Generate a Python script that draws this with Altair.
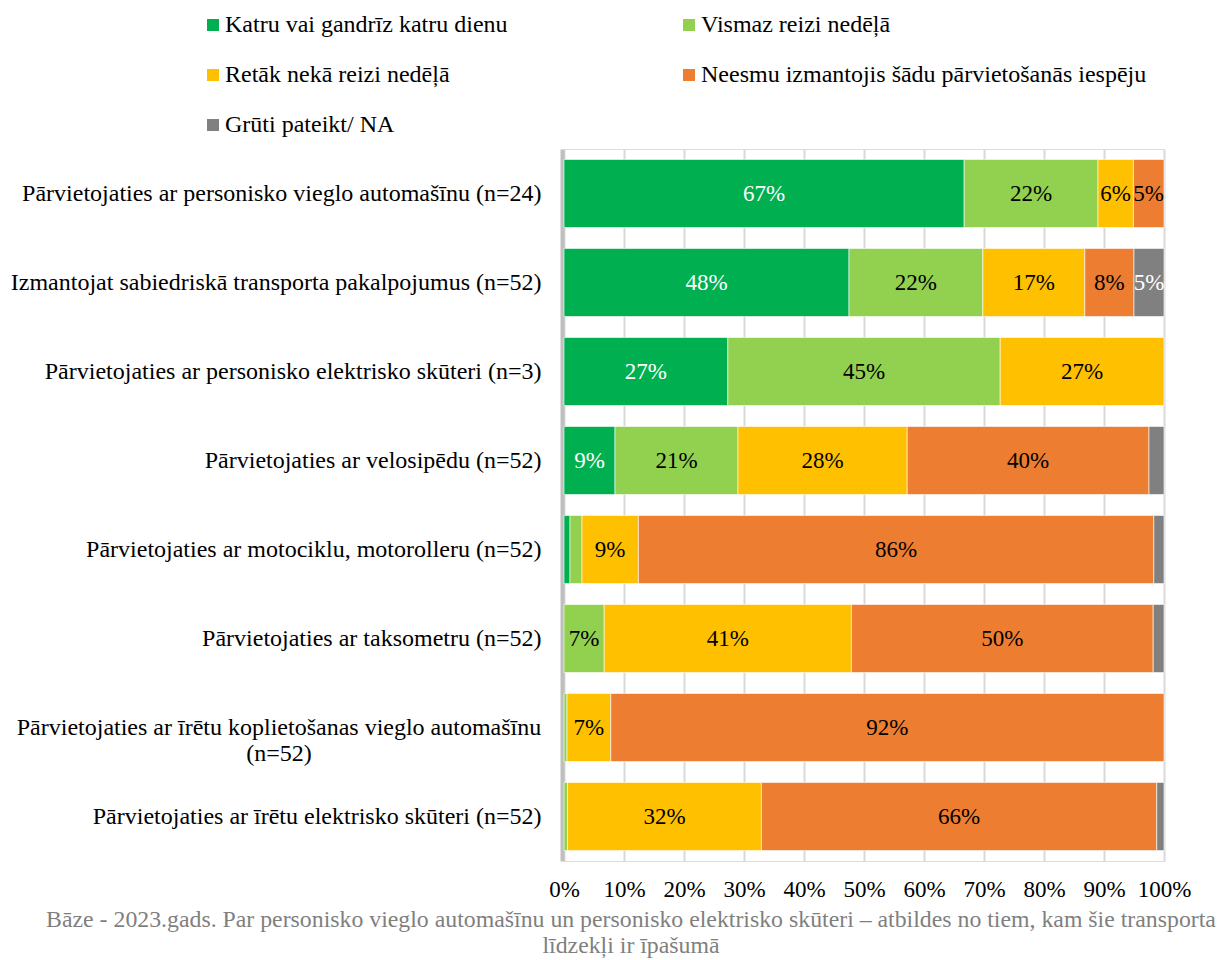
import json
import altair as alt
import pandas as pd

categories = [
    "Pārvietojaties ar personisko vieglo automašīnu (n=24)",
    "Izmantojat sabiedriskā transporta pakalpojumus (n=52)",
    "Pārvietojaties ar personisko elektrisko skūteri (n=3)",
    "Pārvietojaties ar velosipēdu (n=52)",
    "Pārvietojaties ar motociklu, motorolleru (n=52)",
    "Pārvietojaties ar taksometru (n=52)",
    "Pārvietojaties ar īrētu koplietošanas vieglo automašīnu (n=52)",
    "Pārvietojaties ar īrētu elektrisko skūteri (n=52)",
]
series = [
    "Katru vai gandrīz katru dienu",
    "Vismaz reizi nedēļā",
    "Retāk nekā reizi nedēļā",
    "Neesmu izmantojis šādu pārvietošanās iespēju",
    "Grūti pateikt/ NA",
]
colors = ["#00B050", "#92D050", "#FFC000", "#ED7D31", "#808080"]

daily = [66.7, 47.5, 27.3, 8.5, 1.0, 0.0, 0.0, 0.0]
weekly = [22.3, 22.3, 45.4, 20.5, 2.0, 6.7, 0.5, 0.6]
less = [5.9, 17.0, 27.3, 28.2, 9.4, 41.2, 7.3, 32.3]
never = [5.1, 8.2, 0.0, 40.3, 85.9, 50.3, 92.2, 65.9]
na = [0.0, 5.0, 0.0, 2.5, 1.7, 1.8, 0.0, 1.2]
values = [daily, weekly, less, never, na]

x_ticks = [0, 10, 20, 30, 40, 50, 60, 70, 80, 90, 100]
footnote = [
    "Bāze - 2023.gads. Par personisko vieglo automašīnu un personisko elektrisko skūteri – atbildes no tiem, kam šie transporta",
    "līdzekļi ir īpašumā",
]

rows = []
for si, (s, vals) in enumerate(zip(series, values)):
    for c, v in zip(categories, vals):
        if v > 0:
            rows.append({"cat": c, "series": s, "order": si, "value": v})
df = pd.DataFrame(rows)

FONT = "Liberation Serif"
wrapped = categories[6]
wrap_at = wrapped.index(" (n=")
wrapped_df = pd.DataFrame([{"cat": wrapped, "txt": wrapped[:wrap_at] + "\n" + wrapped[wrap_at + 1:]}])
label_expr = f"datum.label == {json.dumps(wrapped)} ? '' : datum.label"

base = alt.Chart(df).transform_stack(
    stack="value", groupby=["cat"], as_=["x0", "x1"],
    sort=[alt.SortField("order", order="ascending")],
).transform_calculate(
    mid="(datum.x0 + datum.x1) / 2",
    lbl="datum.value >= 3 ? round(datum.value) + '%' : ''",
)

y_enc = alt.Y(
    "cat:N", sort=categories, title=None,
    scale=alt.Scale(paddingInner=0.235, paddingOuter=0.1175),
    axis=alt.Axis(
        labelExpr=label_expr, labelFont=FONT, labelFontSize=24, labelColor="black",
        labelLimit=800, labelPadding=21, ticks=False, tickSize=0,
        domainColor="#BFBFBF", domainWidth=4, offset=2, grid=False,
    ),
)

bars = base.mark_bar(stroke="white", strokeWidth=0.6).encode(
    x=alt.X(
        "x0:Q", scale=alt.Scale(domain=[0, 100], nice=False), title=None,
        axis=alt.Axis(
            values=x_ticks, labelExpr="datum.value + '%'", grid=True,
            gridColor="#D9D9D9", gridWidth=2, domain=False, ticks=False, tickSize=0,
            labelFont=FONT, labelFontSize=23, labelColor="black", labelPadding=17,
            labelOverlap=False, labelFlush=False,
        ),
    ),
    x2="x1:Q",
    y=y_enc,
    color=alt.Color(
        "series:N", scale=alt.Scale(domain=series, range=colors),
        legend=alt.Legend(
            orient="none", legendX=-363, legendY=-136, columns=2, columnPadding=169,
            rowPadding=26, title=None, symbolType="square", symbolSize=144,
            symbolStrokeWidth=0, labelFont=FONT, labelFontSize=24, labelColor="black",
            labelLimit=800, labelOffset=0, direction="horizontal",
        ),
    ),
)

texts = base.mark_text(font=FONT, fontSize=23, baseline="middle", align="center").encode(
    x=alt.X("mid:Q"),
    y=alt.Y("cat:N", sort=categories),
    text="lbl:N",
    color=alt.condition("datum.order == 0 || datum.order == 4", alt.value("white"), alt.value("black")),
)

wrapped_label = alt.Chart(wrapped_df).mark_text(
    font=FONT, fontSize=24, baseline="middle", align="center", lineBreak="\n",
    lineHeight=26, color="black",
).encode(
    x=alt.value(-285),
    y=alt.Y("cat:N", sort=categories),
    text="txt:N",
)

chart = alt.layer(bars, texts, wrapped_label).properties(
    width=600,
    height=712,
    autosize=alt.AutoSizeParams(type="none"),
    padding={"left": 556, "top": 141, "right": 53, "bottom": 97},
    title=alt.TitleParams(
        text=footnote, orient="bottom", anchor="middle", frame="group", dx=-233,
        fontSize=23.8, font=FONT, color="#7F7F7F", fontWeight="normal", lineHeight=26,
        offset=7, baseline="top",
    ),
).configure_view(stroke=None).configure(background="white")

chart.save("out.html", embed_options={"renderer": "svg", "actions": False})
